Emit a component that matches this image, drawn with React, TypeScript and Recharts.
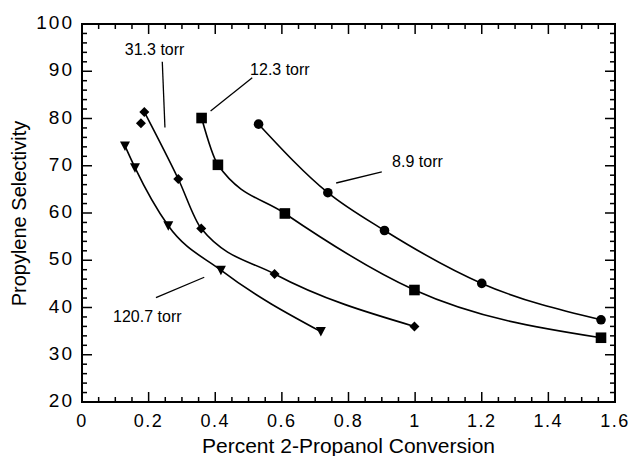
import React from 'react';
import { ComposedChart, Line, Scatter, XAxis, YAxis, ReferenceDot } from 'recharts';

// series labels
const seriesNames = ['8.9 torr', '12.3 torr', '31.3 torr', '120.7 torr'];

// 8.9 torr (circles)
const circleX = [0.53, 0.738, 0.908, 1.2, 1.558];
const circleY = [78.8, 64.3, 56.3, 45.1, 37.4];
// 12.3 torr (squares)
const squareX = [0.359, 0.408, 0.609, 0.998, 1.558];
const squareY = [80.1, 70.2, 59.9, 43.7, 33.6];
// 31.3 torr (diamonds) - first point sits off the fitted curve
const diamondX = [0.177, 0.187, 0.289, 0.358, 0.578, 0.998];
const diamondY = [79.0, 81.4, 67.2, 56.7, 47.1, 36.0];
// 120.7 torr (triangles)
const triangleX = [0.129, 0.159, 0.259, 0.417, 0.717];
const triangleY = [74.2, 69.6, 57.3, 47.9, 34.9];

// axes
const xDomain = [0, 1.6];
const yDomain = [20, 100];
const xMajor = [0, 0.2, 0.4, 0.6, 0.8, 1, 1.2, 1.4, 1.6];
const xTicks = [
  0, 0.05, 0.1, 0.15, 0.2, 0.25, 0.3, 0.35, 0.4, 0.45, 0.5, 0.55, 0.6, 0.65, 0.7, 0.75, 0.8,
  0.85, 0.9, 0.95, 1, 1.05, 1.1, 1.15, 1.2, 1.25, 1.3, 1.35, 1.4, 1.45, 1.5, 1.55, 1.6,
];
const yMajor = [20, 30, 40, 50, 60, 70, 80, 90, 100];
const yTicks = [
  20, 22, 24, 26, 28, 30, 32, 34, 36, 38, 40, 42, 44, 46, 48, 50, 52, 54, 56, 58, 60, 62, 64,
  66, 68, 70, 72, 74, 76, 78, 80, 82, 84, 86, 88, 90, 92, 94, 96, 98, 100,
];

const toPoints = (xs: number[], ys: number[]) => xs.map((x, i) => ({ x, y: ys[i] }));

const circles = toPoints(circleX, circleY);
const squares = toPoints(squareX, squareY);
const diamonds = toPoints(diamondX, diamondY);
const diamondCurve = diamonds.slice(1);
const triangles = toPoints(triangleX, triangleY);

// annotation placement (data coords): text centre and leader line
const notes = [
  { name: seriesNames[2], text: { x: 0.218, y: 94.7 }, from: { x: 0.241, y: 92.0 }, to: { x: 0.249, y: 78.1 } },
  { name: seriesNames[1], text: { x: 0.594, y: 90.5 }, from: { x: 0.511, y: 88.6 }, to: { x: 0.386, y: 81.6 } },
  { name: seriesNames[0], text: { x: 1.007, y: 71.0 }, from: { x: 0.9, y: 68.7 }, to: { x: 0.763, y: 66.35 } },
  { name: seriesNames[3], text: { x: 0.196, y: 38.2 }, from: { x: 0.222, y: 42.1 }, to: { x: 0.367, y: 46.4 } },
];

// layout
const W = 634;
const H = 456;
const PLOT = { left: 82, top: 24, right: 615, bottom: 402 };

const FONT = '"Liberation Sans", Arial, Helvetica, sans-serif';
const INK = '#000';
const TW = 1.5; // tick mark thickness

const XLabel = (props: any) => {
  const { x, y, payload } = props;
  if (!xMajor.includes(payload.value)) return <g />;
  return (
    <text x={x} y={y + 25} textAnchor="middle" fontSize={18} letterSpacing={1.5} fontFamily={FONT} fill={INK}>
      {String(payload.value)}
    </text>
  );
};

const YLabel = (props: any) => {
  const { x, y, payload } = props;
  if (!yMajor.includes(payload.value)) return <g />;
  return (
    <text x={x - 8} y={y + 5} textAnchor="end" fontSize={19} letterSpacing={2} fontFamily={FONT} fill={INK}>
      {String(payload.value)}
    </text>
  );
};

const Circle = (p: any) => <circle cx={p.cx} cy={p.cy} r={4.8} fill={INK} />;
const Square = (p: any) => <rect x={p.cx - 5.3} y={p.cy - 5.3} width={10.6} height={10.6} fill={INK} />;
const Diamond = (p: any) => (
  <polygon points={`${p.cx},${p.cy - 5} ${p.cx + 5},${p.cy} ${p.cx},${p.cy + 5} ${p.cx - 5},${p.cy}`} fill={INK} />
);
const Triangle = (p: any) => (
  <polygon points={`${p.cx - 5},${p.cy - 4.5} ${p.cx + 5},${p.cy - 4.5} ${p.cx},${p.cy + 5}`} fill={INK} />
);

// box with inward ticks on all four sides, laid over the plot area
const sx = (v: number) =>
  PLOT.left + ((v - xDomain[0]) / (xDomain[1] - xDomain[0])) * (PLOT.right - PLOT.left);
const sy = (v: number) =>
  PLOT.bottom - ((v - yDomain[0]) / (yDomain[1] - yDomain[0])) * (PLOT.bottom - PLOT.top);

function Frame() {
  return (
    <svg
      width={W}
      height={H}
      style={{ position: 'absolute', left: 0, top: 0, pointerEvents: 'none', zIndex: 2 }}
    >
      {xTicks.map((v) => {
        const len = xMajor.includes(v) ? 10 : 5;
        const x = sx(v);
        return (
          <g key={`x${v}`}>
            <rect x={x - TW / 2} y={PLOT.bottom - len} width={TW} height={len} fill={INK} />
            <rect x={x - TW / 2} y={PLOT.top} width={TW} height={len} fill={INK} />
          </g>
        );
      })}
      {yTicks.map((v) => {
        const len = yMajor.includes(v) ? 10 : 5;
        const y = sy(v);
        return (
          <g key={`y${v}`}>
            <rect x={PLOT.left} y={y - TW / 2} width={len} height={TW} fill={INK} />
            <rect x={PLOT.right - len} y={y - TW / 2} width={len} height={TW} fill={INK} />
          </g>
        );
      })}
      <rect
        x={PLOT.left}
        y={PLOT.top}
        width={PLOT.right - PLOT.left}
        height={PLOT.bottom - PLOT.top}
        fill="none"
        stroke={INK}
        strokeWidth={2}
      />
    </svg>
  );
}

const titleStyle: React.CSSProperties = {
  position: 'absolute',
  fontFamily: FONT,
  color: INK,
  textAlign: 'center',
  whiteSpace: 'nowrap',
  lineHeight: '21px',
  height: 21,
};

export default function App() {
  return (
    <div style={{ position: 'absolute', left: 0, top: 0, width: W, height: H, overflow: 'hidden', background: '#fff' }}>
      <ComposedChart
        width={W}
        height={H}
        margin={{ top: PLOT.top, right: W - PLOT.right, left: 0, bottom: 0 }}
      >
        <XAxis
          dataKey="x"
          type="number"
          domain={xDomain}
          ticks={xTicks}
          interval={0}
          tickSize={0}
          tickMargin={0}
          tick={<XLabel />}
          tickLine={false}
          axisLine={false}
          height={H - PLOT.bottom}
        />
        <YAxis
          dataKey="y"
          type="number"
          domain={yDomain}
          ticks={yTicks}
          interval={0}
          tickSize={0}
          tickMargin={0}
          tick={<YLabel />}
          tickLine={false}
          axisLine={false}
          width={PLOT.left}
        />

        {/* fitted curves */}
        <Line data={circles} dataKey="y" type="monotone" stroke={INK} strokeWidth={1.6} dot={false} isAnimationActive={false} />
        <Line data={squares} dataKey="y" type="monotone" stroke={INK} strokeWidth={1.6} dot={false} isAnimationActive={false} />
        <Line data={diamondCurve} dataKey="y" type="monotone" stroke={INK} strokeWidth={1.6} dot={false} isAnimationActive={false} />
        <Line data={triangles} dataKey="y" type="monotone" stroke={INK} strokeWidth={1.6} dot={false} isAnimationActive={false} />

        {/* leader lines for the pressure labels */}
        {notes.map((n) => (
          <Line
            key={`l-${n.name}`}
            data={[n.from, n.to]}
            dataKey="y"
            type="linear"
            stroke={INK}
            strokeWidth={1.3}
            dot={false}
            isAnimationActive={false}
          />
        ))}

        {/* measured points */}
        <Scatter data={circles} dataKey="y" shape={Circle} isAnimationActive={false} />
        <Scatter data={squares} dataKey="y" shape={Square} isAnimationActive={false} />
        <Scatter data={diamonds} dataKey="y" shape={Diamond} isAnimationActive={false} />
        <Scatter data={triangles} dataKey="y" shape={Triangle} isAnimationActive={false} />

        {notes.map((n) => (
          <ReferenceDot
            key={`t-${n.name}`}
            x={n.text.x}
            y={n.text.y}
            r={0}
            fill="none"
            stroke="none"
            label={{ value: n.name, position: 'center', fontSize: 16, fill: INK, fontFamily: FONT }}
          />
        ))}
      </ComposedChart>

      <Frame />

      {/* axis titles */}
      <div style={{ ...titleStyle, left: PLOT.left, top: 435, width: PLOT.right - PLOT.left, fontSize: 21 }}>
        Percent 2-Propanol Conversion
      </div>
      <div
        style={{
          ...titleStyle,
          left: 19 - 189,
          top: 213 - 10.5,
          width: 378,
          fontSize: 20,
          transform: 'rotate(-90deg)',
        }}
      >
        Propylene Selectivity
      </div>
    </div>
  );
}
